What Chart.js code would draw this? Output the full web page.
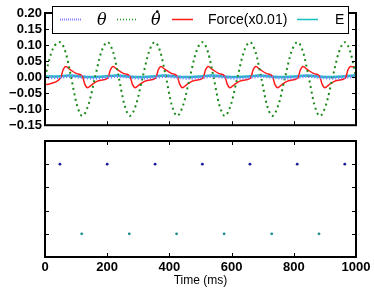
<!DOCTYPE html>
<html>
<head>
<meta charset="utf-8">
<script src="https://cdn.jsdelivr.net/npm/chart.js@4.4.0/dist/chart.umd.min.js"></script>
<style>
  body { margin: 0; background: #fff; width: 374px; height: 291px; overflow: hidden; position: relative; }
  canvas { position: absolute; left: 0; }
  #top { top: 0; }
  #bot { top: 130px; }
</style>
</head>
<body>
<canvas id="bot" width="374" height="161"></canvas>
<canvas id="top" width="374" height="136"></canvas>
<script>
// ---- data (time in ms) ----
const thetaT = [0, 48, 84, 120, 161, 200, 237, 273, 314, 353, 389, 425, 466, 506, 542, 578, 619, 659, 695, 731, 772, 812, 848, 884, 925, 964, 1000];
const thetaV = [-0.002, 0, 0.003, 0, -0.003, 0, 0.003, 0, -0.003, 0, 0.003, 0, -0.003, 0, 0.003, 0, -0.003, 0, 0.003, 0, -0.003, 0, 0.003, 0, -0.003, 0, 0.003];

const dthetaT = [0, 10, 20, 30, 48, 66, 84, 102, 120, 140, 161, 181,
  201, 219, 237, 255, 273, 293, 314, 334,
  353, 371, 389, 407, 425, 445, 466, 486,
  506, 524, 542, 560, 578, 598, 619, 639,
  659, 677, 695, 713, 731, 751, 772, 792,
  812, 830, 848, 866, 884, 904, 925, 945,
  964, 982, 1000];
const dthetaV = [0.0, 0.04, 0.075, 0.097, 0.109, 0.078, 0, -0.085, -0.121, -0.085, 0, 0.078,
  0.109, 0.078, 0, -0.085, -0.121, -0.085, 0, 0.078,
  0.109, 0.078, 0, -0.085, -0.121, -0.085, 0, 0.078,
  0.109, 0.078, 0, -0.085, -0.121, -0.085, 0, 0.078,
  0.109, 0.078, 0, -0.085, -0.121, -0.085, 0, 0.078,
  0.109, 0.078, 0, -0.085, -0.121, -0.085, 0, 0.078,
  0.109, 0.078, 0];

const forceT = [0, 50, 58, 67, 80, 102, 120, 128, 137, 150, 172,
  202, 210, 219, 232, 254, 273, 281, 290, 303, 325,
  356, 364, 373, 386, 408, 425, 433, 442, 455, 477,
  508, 516, 525, 538, 560, 578, 586, 595, 608, 630,
  661, 669, 678, 691, 713, 731, 739, 748, 761, 783,
  813, 821, 830, 843, 865, 883, 891, 900, 913, 935,
  966, 974, 983, 1000];
const forceV = [-0.024, -0.003, 0.022, 0.033, 0.024, 0.011, 0.003, -0.022, -0.033, -0.024, -0.011,
  -0.003, 0.022, 0.033, 0.024, 0.011, 0.003, -0.022, -0.033, -0.024, -0.011,
  -0.003, 0.022, 0.033, 0.024, 0.011, 0.003, -0.022, -0.033, -0.024, -0.011,
  -0.003, 0.022, 0.033, 0.024, 0.011, 0.003, -0.022, -0.033, -0.024, -0.011,
  -0.003, 0.022, 0.033, 0.024, 0.011, 0.003, -0.022, -0.033, -0.024, -0.011,
  -0.003, 0.022, 0.033, 0.024, 0.011, 0.003, -0.022, -0.033, -0.024, -0.011,
  -0.003, 0.022, 0.033, 0.031];

const energyT = [0, 40, 78, 135, 192, 230, 288, 346, 384, 440, 498, 536, 593, 651, 689, 746, 803, 841, 898, 956, 994, 1000];
const energyV = [0.002, 0.002, 0.005, 0.0, 0.002, 0.005, 0.0, 0.002, 0.005, 0.0, 0.002, 0.005, 0.0, 0.002, 0.005, 0.0, 0.002, 0.005, 0.0, 0.002, 0.005, 0.005];

const spikesA = [48, 200, 354, 506, 659, 811, 964];
const spikesB = [118, 271, 423, 576, 729, 881];
const rowA = 4, rowB = 1;

const yTicksTop = [-0.15, -0.10, -0.05, 0.00, 0.05, 0.10, 0.15, 0.20];
const xTicks = [0, 200, 400, 600, 800, 1000];

function pts(ts, vs) { return ts.map((t, i) => ({ x: t, y: vs[i] })); }

const FONT = '"Liberation Sans", Arial, sans-serif';

// black box round the axes, with small ticks pointing inwards
const framePlugin = {
  id: 'frame',
  afterDraw(chart) {
    const { ctx, chartArea: a, scales } = chart;
    ctx.save();
    ctx.strokeStyle = '#000';
    ctx.lineWidth = 1;
    ctx.beginPath();
    xTicks.forEach(v => {
      const px = Math.round(scales.x.getPixelForValue(v)) + 0.5;
      ctx.moveTo(px, a.bottom); ctx.lineTo(px, a.bottom - 4);
      ctx.moveTo(px, a.top); ctx.lineTo(px, a.top + 4);
    });
    scales.y.ticks.forEach(t => {
      const py = Math.round(scales.y.getPixelForValue(t.value)) + 0.5;
      ctx.moveTo(a.left, py); ctx.lineTo(a.left + 4, py);
      ctx.moveTo(a.right, py); ctx.lineTo(a.right - 4, py);
    });
    ctx.stroke();
    ctx.lineWidth = 2;
    ctx.strokeRect(a.left, a.top, a.width, a.height);
    ctx.restore();
  }
};

// legend box drawn inside the top axes, like matplotlib
const legendPlugin = {
  id: 'boxLegend',
  afterDraw(chart) {
    const ctx = chart.ctx;
    const box = { x: 52, y: 6, w: 296, h: 27 };
    const slots = [
      { x0: 60, x1: 82, tx: 97 },
      { x0: 117, x1: 137, tx: 151 },
      { x0: 172, x1: 193, tx: 208 },
      { x0: 297, x1: 318, tx: 335 }
    ];
    ctx.save();
    ctx.fillStyle = '#fff';
    ctx.fillRect(box.x, box.y, box.w, box.h);
    ctx.strokeStyle = '#000';
    ctx.lineWidth = 1;
    ctx.strokeRect(box.x + 0.5, box.y + 0.5, box.w, box.h);
    const cy = box.y + box.h / 2;
    chart.data.datasets.forEach((ds, i) => {
      const s = slots[i];
      ctx.beginPath();
      ctx.strokeStyle = ds.borderColor;
      ctx.lineWidth = i === 0 ? 2 : Math.min(ds.borderWidth, 1.5);
      ctx.setLineDash(i === 0 ? [1, 1] : (ds.borderDash ? [1, 2] : []));
      ctx.moveTo(s.x0, cy); ctx.lineTo(s.x1, cy);
      ctx.stroke();
      ctx.setLineDash([]);
      ctx.fillStyle = '#000';
      ctx.textBaseline = 'middle';
      ctx.font = ds.legendFont;
      const dotted = ds.label.endsWith('\u0307');
      const txt = dotted ? ds.label.slice(0, -1) : ds.label;
      ctx.fillText(txt, s.tx, cy + 1);
      if (dotted) {
        const w = ctx.measureText(txt).width;
        ctx.beginPath();
        ctx.arc(s.tx + w / 2 + 1.5, cy - 8, 1.3, 0, Math.PI * 2);
        ctx.fill();
      }
    });
    ctx.restore();
  }
};

const tickFont = { family: FONT, size: 13, weight: 'bold' };

new Chart(document.getElementById('top'), {
  type: 'line',
  data: {
    datasets: [
      { label: '\u03B8', data: pts(thetaT, thetaV), borderColor: '#8080ff', borderWidth: 3.5, borderDash: [1.2, 1.8],
        pointRadius: 0, cubicInterpolationMode: 'monotone', legendFont: 'italic 16px "DejaVu Serif", serif' },
      { label: '\u03B8\u0307', data: pts(dthetaT, dthetaV), borderColor: '#1a8a1a', borderWidth: 2, borderDash: [2, 3.5],
        pointRadius: 0, cubicInterpolationMode: 'monotone', legendFont: 'italic 16px "DejaVu Serif", serif' },
      { label: 'Force(x0.01)', data: pts(forceT, forceV), borderColor: '#ff1a1a', borderWidth: 1.5,
        pointRadius: 0, cubicInterpolationMode: 'monotone', legendFont: '14px ' + FONT },
      { label: 'E', data: pts(energyT, energyV), borderColor: '#16c0c0', borderWidth: 2.5,
        pointRadius: 0, cubicInterpolationMode: 'monotone', legendFont: '14px ' + FONT }
    ]
  },
  options: {
    responsive: false,
    animation: false,
    devicePixelRatio: 1,
    layout: { padding: { top: 13, right: 18, bottom: 6, left: 0 } },
    plugins: { legend: { display: false }, tooltip: { enabled: false } },
    scales: {
      x: {
        type: 'linear', min: 0, max: 1000,
        grid: { display: false, drawTicks: false }, border: { display: false },
        ticks: { display: false, stepSize: 200 },
        afterFit(scale) { scale.height = 0; }
      },
      y: {
        min: -0.15, max: 0.20,
        grid: { display: false, drawTicks: false }, border: { display: false },
        afterBuildTicks(scale) { scale.ticks = yTicksTop.map(v => ({ value: v })); },
        ticks: {
          font: tickFont, color: '#000', padding: 3, autoSkip: false,
          callback: v => (v < -1e-9 ? '\u2212' : '') + Math.abs(v).toFixed(2)
        },
        afterFit(scale) { scale.width = 45; }
      }
    }
  },
  plugins: [framePlugin, legendPlugin]
});

new Chart(document.getElementById('bot'), {
  type: 'scatter',
  data: {
    datasets: [
      { data: spikesA.map(t => ({ x: t, y: rowA })), backgroundColor: '#1c1c9a', borderWidth: 0, pointRadius: 1.4 },
      { data: spikesB.map(t => ({ x: t, y: rowB })), backgroundColor: '#1c8c8c', borderWidth: 0, pointRadius: 1.4 }
    ]
  },
  options: {
    responsive: false,
    animation: false,
    devicePixelRatio: 1,
    layout: { padding: { top: 11, right: 18, bottom: 0, left: 0 } },
    plugins: { legend: { display: false }, tooltip: { enabled: false } },
    scales: {
      x: {
        type: 'linear', min: 0, max: 1000,
        grid: { display: false, drawTicks: false }, border: { display: false },
        afterBuildTicks(scale) { scale.ticks = xTicks.map(v => ({ value: v })); },
        ticks: { font: tickFont, color: '#000', padding: 3, maxRotation: 0, autoSkip: false,
          callback: v => String(v) },
        title: { display: true, text: 'Time (ms)', color: '#000', font: { family: FONT, size: 12 }, padding: { top: 0, bottom: 3 } },
        afterFit(scale) { scale.height = 34; }
      },
      y: {
        min: 0, max: 5,
        grid: { display: false, drawTicks: false }, border: { display: false },
        ticks: { display: false, stepSize: 1 },
        afterFit(scale) { scale.width = 45; }
      }
    }
  },
  plugins: [framePlugin]
});
</script>
</body>
</html>
